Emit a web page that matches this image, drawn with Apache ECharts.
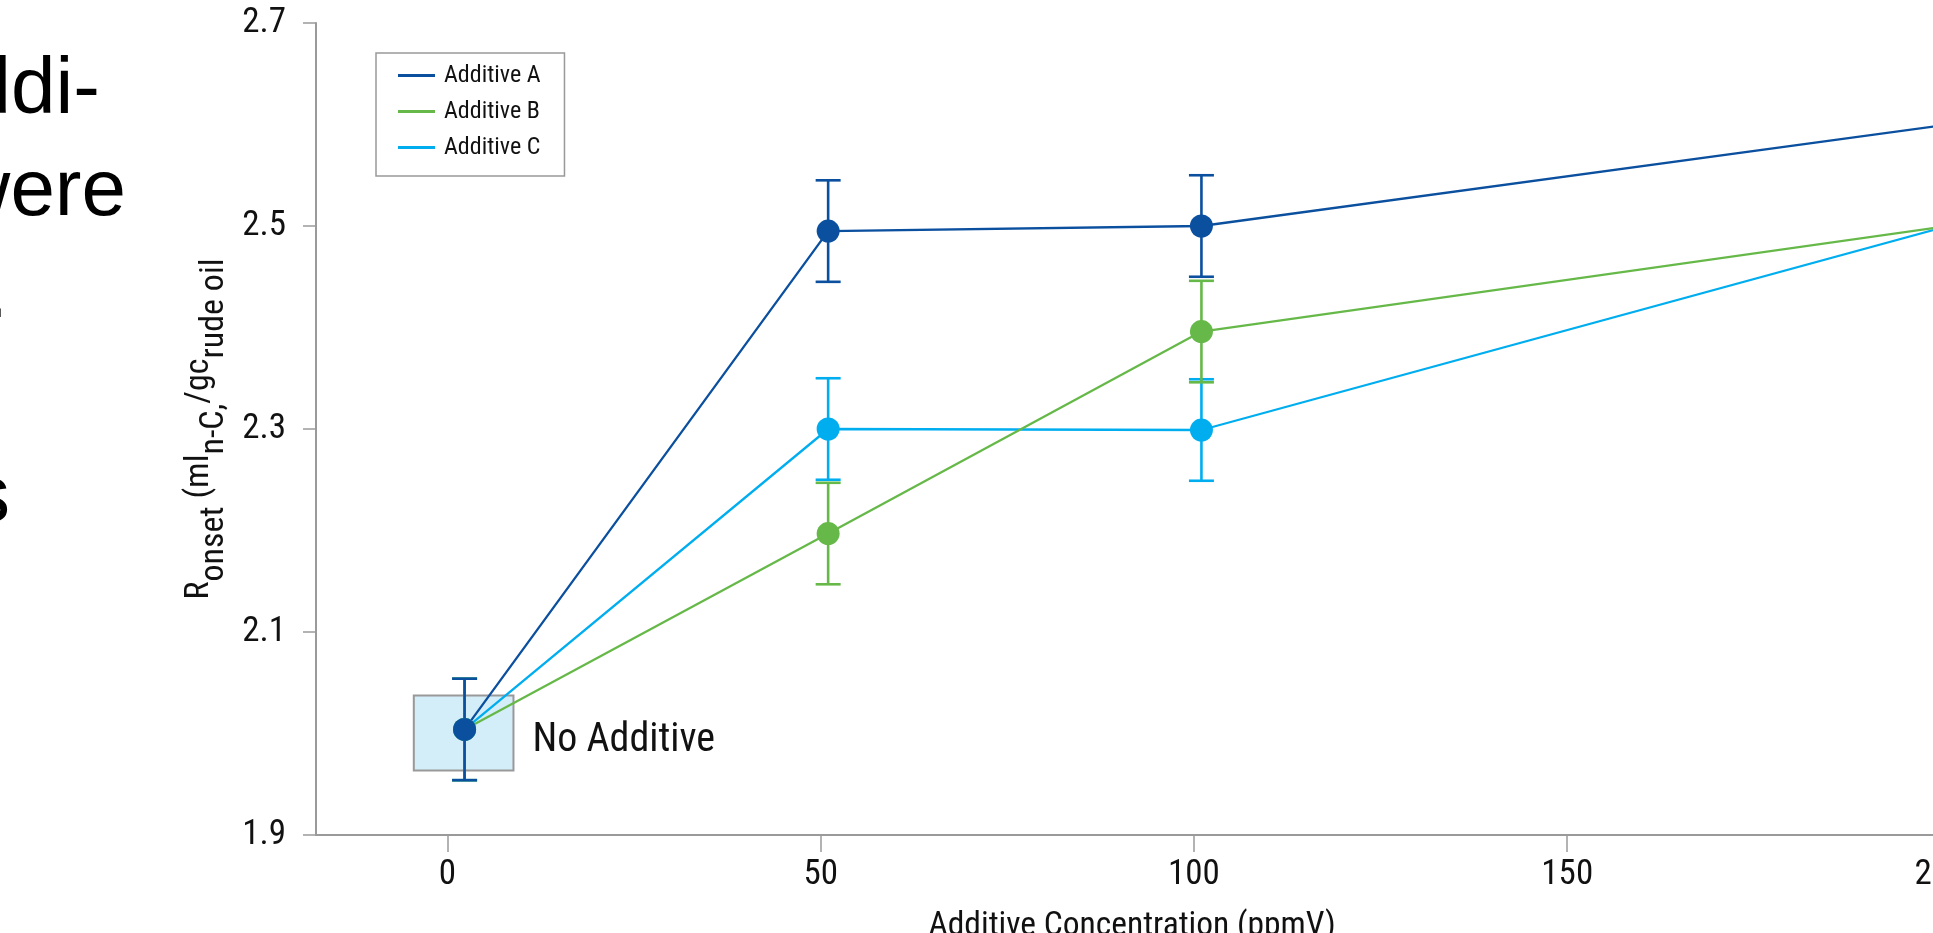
<!DOCTYPE html>
<html><head><meta charset="utf-8">
<script src="https://cdn.jsdelivr.net/npm/echarts@6/dist/echarts.min.js"></script>
<style>html,body{margin:0;padding:0;background:#fff;overflow:hidden}#chart{width:1933px;height:933px}</style>
</head><body><div id="chart"></div>
<script>
// ---- data ----
const concentrations = [2.3, 51, 101, 201];
const additiveA = [2.004, 2.495, 2.5, 2.6];
const additiveB = [2.004, 2.197, 2.396, 2.5];
const additiveC = [2.004, 2.3, 2.299, 2.5];
const errorA = [0.05, 0.05, 0.05, null];
const errorB = [0.05, 0.05, 0.05, null];
const errorC = [0.05, 0.05, 0.05, null];
const xTickValues = [0, 50, 100, 150, 200];
const yTickValues = [1.9, 2.1, 2.3, 2.5, 2.7];
const seriesNames = ['Additive A', 'Additive B', 'Additive C'];
const noAdditiveBox = [[-4.5, 1.9636], [8.85, 2.0375]];
const noAdditiveLabel = 'No Additive';
const bodyTextLines = ['addi-', 'were', 'ment.', '', 'ts'];

// ---- fonts: prefer a condensed face if one is installed ----
function hasFont(name) {
  const c = document.createElement('canvas').getContext('2d');
  c.font = '40px monospace';
  const a = c.measureText('Additive Concentration').width;
  c.font = '40px "' + name + '", monospace';
  return Math.abs(c.measureText('Additive Concentration').width - a) > 0.5;
}
const narrowCandidates = ['Liberation Sans Narrow', 'Arial Narrow', 'Nimbus Sans Narrow', 'Roboto Condensed'];
let NF = 'Liberation Sans', K = 0.86, HAS_NARROW = false;
for (const f of narrowCandidates) { if (hasFont(f)) { NF = f; K = 1; HAS_NARROW = true; break; } }
const TF = HAS_NARROW ? NF : 'Liberation Sans';
const TS = HAS_NARROW ? 35 : 33;

const colors = ['#0b4f9f', '#66b949', '#00aeef'];
const TXT = '#111111';
const GREY = '#9a9a9a';

function pts(vals) { return vals.map((v, i) => [concentrations[i], v]); }

function errorBarSeries(name, vals, errs, color) {
  const data = [];
  vals.forEach((v, i) => { if (errs[i] != null) data.push([concentrations[i], v - errs[i], v + errs[i]]); });
  return {
    type: 'custom', name: name, data: data, z: 2, silent: true,
    encode: { x: 0, y: [1, 2] },
    renderItem: function (params, api) {
      const x = api.value(0);
      const lo = api.coord([x, api.value(1)]);
      const hi = api.coord([x, api.value(2)]);
      const hw = 12.5;
      const st = { stroke: color, lineWidth: 2.6 };
      return { type: 'group', children: [
        { type: 'line', shape: { x1: lo[0], y1: lo[1], x2: hi[0], y2: hi[1] }, style: st },
        { type: 'line', shape: { x1: lo[0] - hw, y1: lo[1], x2: lo[0] + hw, y2: lo[1] }, style: st },
        { type: 'line', shape: { x1: hi[0] - hw, y1: hi[1], x2: hi[0] + hw, y2: hi[1] }, style: st }
      ]};
    }
  };
}
function lineSeries(name, vals, color, extra) {
  return Object.assign({
    type: 'line', name: name, data: pts(vals), z: 2,
    symbol: 'circle', symbolSize: 23, showSymbol: true,
    lineStyle: { color: color, width: 2.3 },
    itemStyle: { color: color },
    emphasis: { disabled: true }, animation: false
  }, extra || {});
}

const chart = echarts.init(document.getElementById('chart'), null, { renderer: 'canvas' });

const bodyText = bodyTextLines.map((t, i) => ({
  type: 'text', silent: true,
  style: {
    text: t, x: [100, 126, 8, 0, 10][i], y: 114 + 102 * i + 17,
    align: 'right', verticalAlign: 'bottom',
    font: '80px "Liberation Sans", Arial, sans-serif', fill: '#000'
  }
}));

const option = {
  animation: false,
  backgroundColor: '#ffffff',
  grid: { left: 316, right: -15, top: 23, bottom: 98, containLabel: false, outerBoundsMode: 'none' },
  legend: {
    show: true, orient: 'vertical', left: 376, top: 53,
    data: seriesNames,
    icon: 'rect', itemWidth: 37, itemHeight: 3, itemGap: 11,
    padding: [10, 24, 16, 22],
    borderColor: '#999', borderWidth: 1.5, backgroundColor: '#fff',
    textStyle: { fontFamily: NF, fontSize: 24 * K, lineHeight: 25, color: TXT, padding: [0, 0, 0, 4] },
    selectedMode: false
  },
  xAxis: {
    type: 'value', min: -17.6, max: 201,
    name: 'Additive Concentration (ppmV)', nameLocation: 'middle', nameGap: 75,
    nameTextStyle: { fontFamily: NF, fontSize: 33.5 * K, color: TXT },
    axisLine: { show: true, onZero: false, lineStyle: { color: GREY, width: 2 } },
    axisTick: { show: true, length: 17, customValues: xTickValues, lineStyle: { color: GREY, width: 1.5 } },
    axisLabel: { show: true, customValues: xTickValues, fontFamily: TF, fontSize: TS, color: TXT, margin: 23 },
    splitLine: { show: false }
  },
  yAxis: {
    type: 'value', min: 1.9, max: 2.7,
    name: '{m|R}{s|onset}{m| (ml}{s|n-C,}{m|/gc}{s|rude oil}',
    nameLocation: 'middle', nameGap: 83,
    nameTextStyle: {
      fontFamily: NF, fontSize: 34 * K, color: TXT,
      rich: {
        m: { fontFamily: NF, fontSize: 34 * K, color: TXT, verticalAlign: 'top' },
        s: { fontFamily: NF, fontSize: 34 * K, color: TXT, verticalAlign: 'top', padding: [15, 0, 0, 0] }
      }
    },
    axisLine: { show: true, onZero: false, lineStyle: { color: GREY, width: 2 } },
    axisTick: { show: true, length: 13, customValues: yTickValues, lineStyle: { color: GREY, width: 1.5 } },
    axisLabel: { show: true, customValues: yTickValues, formatter: v => Number(v).toFixed(1), fontFamily: TF, fontSize: TS, color: TXT, margin: 30 },
    splitLine: { show: false }
  },
  series: [
    lineSeries('Additive C', additiveC, colors[2], {
      markArea: {
        silent: true,
        itemStyle: { color: '#d3edf9', borderColor: '#999', borderWidth: 2 },
        label: { show: true, position: 'right', distance: 18, offset: [0, 8], formatter: noAdditiveLabel, fontFamily: NF, fontSize: 40 * K, color: TXT },
        emphasis: { disabled: true },
        data: [[{ coord: noAdditiveBox[0] }, { coord: noAdditiveBox[1] }]]
      }
    }),
    errorBarSeries('Additive C error', additiveC, errorC, colors[2]),
    lineSeries('Additive B', additiveB, colors[1]),
    errorBarSeries('Additive B error', additiveB, errorB, colors[1]),
    errorBarSeries('Additive A error', additiveA, errorA, colors[0]),
    lineSeries('Additive A', additiveA, colors[0])
  ],
  graphic: bodyText
};
chart.setOption(option);
</script>
</body></html>
